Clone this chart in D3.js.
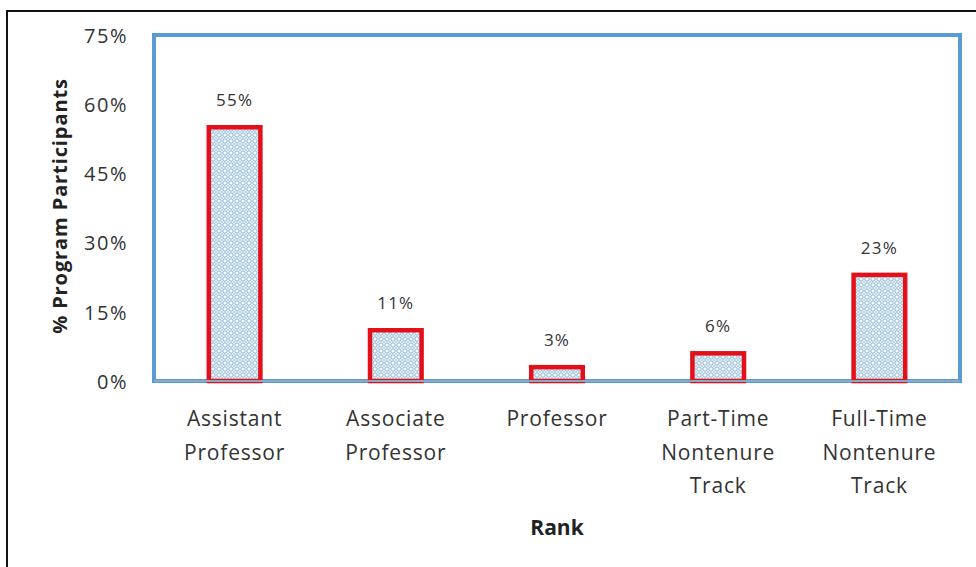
<!DOCTYPE html>
<html>
<head>
<meta charset="utf-8">
<script src="https://cdn.jsdelivr.net/npm/d3@7"></script>
<style>
  html, body { margin: 0; padding: 0; background: #fff; }
  svg { display: block; font-family: "Open Sans", sans-serif; }
</style>
</head>
<body>
<svg id="chart" width="976" height="567"></svg>
<script>
// Share of program participants by academic rank
const categories = [
  ["Assistant", "Professor"],
  ["Associate", "Professor"],
  ["Professor"],
  ["Part-Time", "Nontenure", "Track"],
  ["Full-Time", "Nontenure", "Track"]
];
const values = [55, 11, 3, 6, 23];
const yTicks = [0, 15, 30, 45, 60, 75];

const svg = d3.select("#chart");
const W = 976, H = 567;
const plot = { left: 154, right: 960, top: 35, bottom: 381 };

// outer frame (extends past the right and bottom edges)
svg.append("rect")
  .attr("x", 7).attr("y", 11)
  .attr("width", W).attr("height", H)
  .attr("fill", "#fff").attr("stroke", "#111").attr("stroke-width", 2);

// hatch fill for the bars
const defs = svg.append("defs");
const pat = defs.append("pattern")
  .attr("id", "hatch").attr("patternUnits", "userSpaceOnUse")
  .attr("width", 6).attr("height", 6);
pat.append("rect").attr("width", 6).attr("height", 6).attr("fill", "#f4f9fc");
pat.append("circle").attr("cx", 3).attr("cy", 3).attr("r", 2.2)
  .attr("fill", "none").attr("stroke", "#86b3d3").attr("stroke-width", 1);
[[0, 0], [6, 0], [0, 6], [6, 6]].forEach(([cx, cy]) =>
  pat.append("circle").attr("cx", cx).attr("cy", cy).attr("r", 1).attr("fill", "#a9cbe2"));

const x = d3.scaleBand()
  .domain(d3.range(categories.length))
  .range([plot.left, plot.right])
  .paddingInner(0.68).paddingOuter(0.34);

const y = d3.scaleLinear().domain([0, 75]).range([plot.bottom, plot.top]);

// plot area border
svg.append("rect")
  .attr("x", plot.left).attr("y", plot.top)
  .attr("width", plot.right - plot.left).attr("height", plot.bottom - plot.top)
  .attr("fill", "#fff").attr("stroke", "#5b9bd5").attr("stroke-width", 4);

// bars
svg.append("g").selectAll("rect").data(values).join("rect")
  .attr("x", (d, i) => x(i))
  .attr("y", d => y(d))
  .attr("width", x.bandwidth())
  .attr("height", d => y(0) - y(d))
  .attr("fill", "url(#hatch)")
  .attr("stroke", "#e3101a").attr("stroke-width", 4.5);

// x axis baseline
svg.append("line")
  .attr("x1", plot.left).attr("x2", plot.right)
  .attr("y1", plot.bottom).attr("y2", plot.bottom)
  .attr("stroke", "#8aa9c4").attr("stroke-width", 2);

// value labels
svg.append("g").selectAll("text").data(values).join("text")
  .attr("x", (d, i) => x(i) + x.bandwidth() / 2)
  .attr("y", d => y(d) - 21)
  .attr("text-anchor", "middle")
  .attr("font-size", 17).attr("letter-spacing", 1.2).attr("fill", "#333")
  .text(d => d + "%");

// y axis
const yAxis = d3.axisLeft(y).tickValues(yTicks).tickFormat(d => d + "%").tickSize(0).tickPadding(26);
const gy = svg.append("g").attr("transform", `translate(${plot.left},0)`).call(yAxis);
gy.select(".domain").remove();
gy.selectAll("text").attr("font-size", 20).attr("letter-spacing", 1.5).attr("fill", "#333")
  .attr("font-family", "'Open Sans', sans-serif").attr("dy", "0.36em");

// x axis category labels
const gx = svg.append("g");
categories.forEach((lines, i) => {
  const t = gx.append("text")
    .attr("x", x(i) + x.bandwidth() / 2)
    .attr("y", 426)
    .attr("text-anchor", "middle")
    .attr("font-size", 21).attr("letter-spacing", 0.8).attr("fill", "#333");
  lines.forEach((ln, j) => {
    t.append("tspan").attr("x", x(i) + x.bandwidth() / 2)
      .attr("dy", j === 0 ? 0 : 33.5).text(ln);
  });
});

// axis titles
svg.append("text")
  .attr("x", 557).attr("y", 535)
  .attr("text-anchor", "middle")
  .attr("font-size", 21).attr("font-weight", "bold").attr("fill", "#222")
  .text("Rank");

svg.append("text")
  .attr("transform", "translate(67,206) rotate(-90)")
  .attr("text-anchor", "middle")
  .attr("font-size", 20).attr("letter-spacing", 0.9).attr("font-weight", "bold").attr("fill", "#222")
  .text("% Program Participants");
</script>
</body>
</html>
